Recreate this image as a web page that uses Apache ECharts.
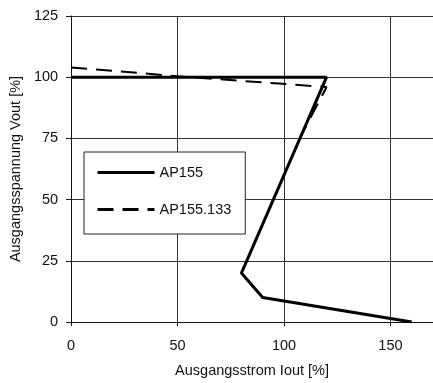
<!DOCTYPE html>
<html>
<head>
<meta charset="utf-8">
<script src="https://cdn.jsdelivr.net/npm/echarts@6/dist/echarts.min.js"></script>
<style>html,body{margin:0;padding:0;background:#fff}#c{width:433px;height:383px}</style>
</head>
<body>
<div id="c"></div>
<script>
var seriesNames = ['AP155', 'AP155.133'];
var ap155 = [[0, 100], [120, 100], [80, 20], [90, 10], [160, 0]];
var ap155_133 = [[0, 104], [50, 100.4], [120, 96], [108, 76]];
var xTicks = [0, 50, 100, 150];
var yTicks = [0, 25, 50, 75, 100, 125];

var FONT = 'Liberation Sans, Arial, sans-serif';
var chart = echarts.init(document.getElementById('c'), null, {renderer: 'canvas'});
chart.setOption({
  animation: false,
  backgroundColor: '#fff',
  grid: {left: 68, right: -4, top: 16, bottom: 60, containLabel: false},
  xAxis: {
    type: 'value', min: 0, max: 170, interval: 50,
    name: 'Ausgangsstrom Iout [%]', nameLocation: 'middle', nameGap: 41,
    nameTextStyle: {fontFamily: FONT, fontSize: 14.5, color: '#111'},
    axisLine: {show: true, onZero: false, lineStyle: {color: '#111', width: 1}},
    axisTick: {show: true, length: 4, lineStyle: {color: '#111'}},
    axisLabel: {fontFamily: FONT, fontSize: 14.5, color: '#111', margin: 16, showMaxLabel: false,
      formatter: function (v) { return xTicks.indexOf(v) >= 0 ? String(v) : ''; }},
    splitLine: {show: true, lineStyle: {color: '#333', width: 1}}
  },
  yAxis: {
    type: 'value', min: 0, max: 125, interval: 25,
    name: 'Ausgangsspannung Vout [%]', nameLocation: 'middle', nameGap: 46, nameRotate: 90,
    nameTextStyle: {fontFamily: FONT, fontSize: 14.5, color: '#111'},
    axisLine: {show: true, lineStyle: {color: '#111', width: 1}},
    axisTick: {show: true, length: 5, lineStyle: {color: '#111'}},
    axisLabel: {fontFamily: FONT, fontSize: 14.5, color: '#111', margin: 13,
      formatter: function (v) { return yTicks.indexOf(v) >= 0 ? String(v) : ''; }},
    splitLine: {show: true, lineStyle: {color: '#333', width: 1}}
  },
  legend: {
    orient: 'vertical', left: 84, top: 152,
    data: seriesNames,
    backgroundColor: '#fff', borderColor: '#222', borderWidth: 1, borderRadius: 0,
    padding: [13, 14, 17, 12],
    itemWidth: 57, itemHeight: 14, itemGap: 22,
    itemStyle: {opacity: 0},
    lineStyle: {width: 3},
    textStyle: {fontFamily: FONT, fontSize: 14.5, color: '#111'}
  },
  series: [
    {name: seriesNames[1], type: 'line', data: ap155_133, symbol: 'none', z: 2,
      lineStyle: {color: '#000', width: 2, type: [16, 9]}, itemStyle: {color: '#000'}},
    {name: seriesNames[0], type: 'line', data: ap155, symbol: 'none', z: 3,
      lineStyle: {color: '#000', width: 3}, itemStyle: {color: '#000'}}
  ]
});
</script>
</body>
</html>
